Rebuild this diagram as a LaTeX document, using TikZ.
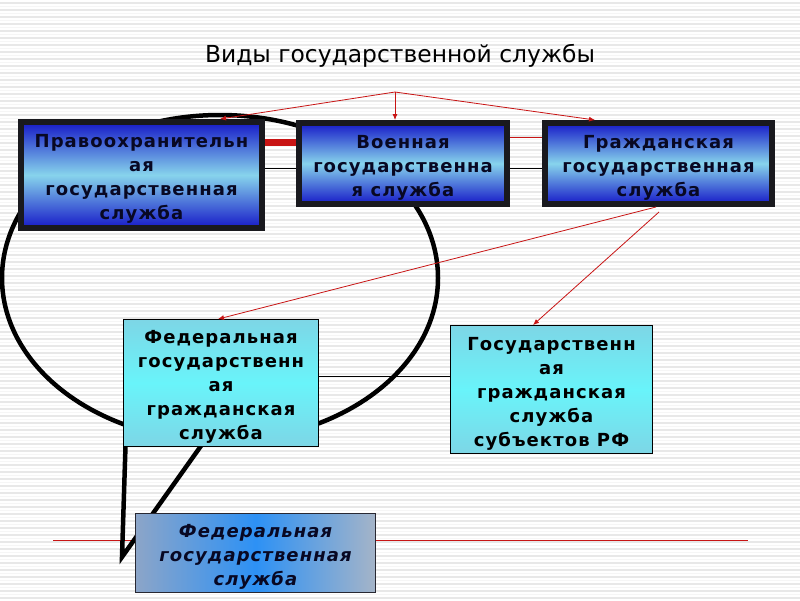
\documentclass[tikz,border=0pt]{standalone}
\usepackage{fontspec}
\setmainfont{DejaVu Sans}
\newfontfamily\boxfont[LetterSpace=6]{DejaVu Sans}
\usetikzlibrary{arrows.meta}
\definecolor{redln}{RGB}{200,20,20}
\definecolor{navytxt}{RGB}{8,8,35}
\definecolor{bluedark}{RGB}{22,25,200}
\definecolor{bluelight}{RGB}{135,212,236}
\definecolor{cyanedge}{RGB}{125,214,230}
\definecolor{cyanmid}{RGB}{105,244,250}
\definecolor{fedleft}{RGB}{140,165,200}
\definecolor{fedmid}{RGB}{45,145,245}
\definecolor{fedright}{RGB}{165,180,200}
\tikzset{
  bluebox/.style={draw={rgb,255:red,25;green,25;blue,30}, line width=6pt, top color=bluedark, bottom color=bluedark, middle color=bluelight, inner sep=0pt},
  cyanbox/.style={draw=black, line width=0.9pt, top color=cyanedge, bottom color=cyanedge, middle color=cyanmid, inner sep=0pt},
  fedbox/.style={draw={rgb,255:red,40;green,40;blue,50}, line width=0.9pt, left color=fedleft, right color=fedright, middle color=fedmid, inner sep=0pt},
  boxtext/.style={inner sep=0pt, align=center, font=\boxfont\bfseries\fontsize{18}{24}\selectfont, text=navytxt, yshift=-4pt},
  cyantext/.style={boxtext, text=black},
  fedtext/.style={boxtext, font=\boxfont\bfseries\itshape\fontsize{18}{24}\selectfont},
  redarrow/.style={draw=redln, line width=0.8pt, -{Latex[length=6pt,width=5pt]}},
  thinred/.style={draw=redln, line width=0.8pt},
  thinblack/.style={draw=black, line width=0.8pt},
  bubble/.style={draw=black, line width=4.5pt, line join=miter},
}
\begin{document}
\begin{tikzpicture}[x=1pt,y=-1pt]
\useasboundingbox (0,0) rectangle (800,600);
\fill[white] (0,0) rectangle (800,600);
\foreach \i in {0,...,85} {
  \draw[gray!18, line width=1.3pt] (0,{3+7*\i}) -- (800,{3+7*\i});
  \draw[gray!7, line width=1.2pt] (0,{6.5+7*\i}) -- (800,{6.5+7*\i});
}
% title
\node[font=\fontsize{23.4}{26}\selectfont, text=black] (title) at (400,56) {Виды государственной службы};
% red horizontal line
\coordinate (hl1) at (53,540);
\coordinate (hl2) at (748,540);
\draw[thinred] (hl1) -- (hl2);
% callout bubble
\draw[bubble] (220,278) ellipse [x radius=218, y radius=163];
\coordinate (tailA) at (126,430);
\coordinate (tip) at (122,557);
\coordinate (tailB) at (208,436);
\draw[bubble] (tailA) -- (tip) -- (tailB);
% boxes
\node[bluebox, minimum width=241pt, minimum height=106pt] (pravo) at (141.5,175) {};
\node[boxtext] (pravoT) at (pravo.center) {Правоохранительн\\ая\\государственная\\служба};
\node[bluebox, minimum width=208pt, minimum height=81pt] (voen) at (403,163.5) {};
\node[boxtext] (voenT) at (voen.center) {Военная\\государственна\\я служба};
\node[bluebox, minimum width=227pt, minimum height=81pt] (grazh) at (658.5,163.5) {};
\node[boxtext] (grazhT) at (grazh.center) {Гражданская\\государственная\\служба};
\node[cyanbox, minimum width=195pt, minimum height=127pt] (fedgr) at (221,383) {};
\node[cyantext] (fedgrT) at (fedgr.center) {Федеральная\\государственн\\ая\\гражданская\\служба};
\node[cyanbox, minimum width=202pt, minimum height=128pt] (subj) at (551.5,389.5) {};
\node[cyantext] (subjT) at (subj.center) {Государственн\\ая\\гражданская\\служба\\субъектов РФ};
\node[fedbox, minimum width=240pt, minimum height=79pt] (fed) at (255.5,553) {};
\node[fedtext] (fedT) at (fed.center) {Федеральная\\государственная\\служба};
% connectors top
\coordinate (apex) at (395,92);
\draw[redarrow] (apex) -- (pravo.north -| 220,0) ;
\draw[redarrow] (apex) -- (voen.north -| apex);
\draw[redarrow] (apex) -- (grazh.north -| 595,0);
% between boxes
\draw[draw=redln, line width=7pt] (pravo.east |- 0,142) -- (voen.west |- 0,142);
\draw[thinblack] (pravo.east |- 0,168) -- (voen.west |- 0,168);
\draw[thinred] (voen.east |- 0,137) -- (grazh.west |- 0,137);
\draw[thinblack] (voen.east |- 0,168) -- (grazh.west |- 0,168);
% from grazh
\coordinate (g1) at (656,207);
\coordinate (g2) at (659,212);
\draw[redarrow] (g1) -- (fedgr.north -| 218,0);
\draw[redarrow] (g2) -- (subj.north -| 533,0);
\draw[thinblack] (fedgr.east |- 0,376) -- (subj.west |- 0,376);
\end{tikzpicture}
\end{document}
